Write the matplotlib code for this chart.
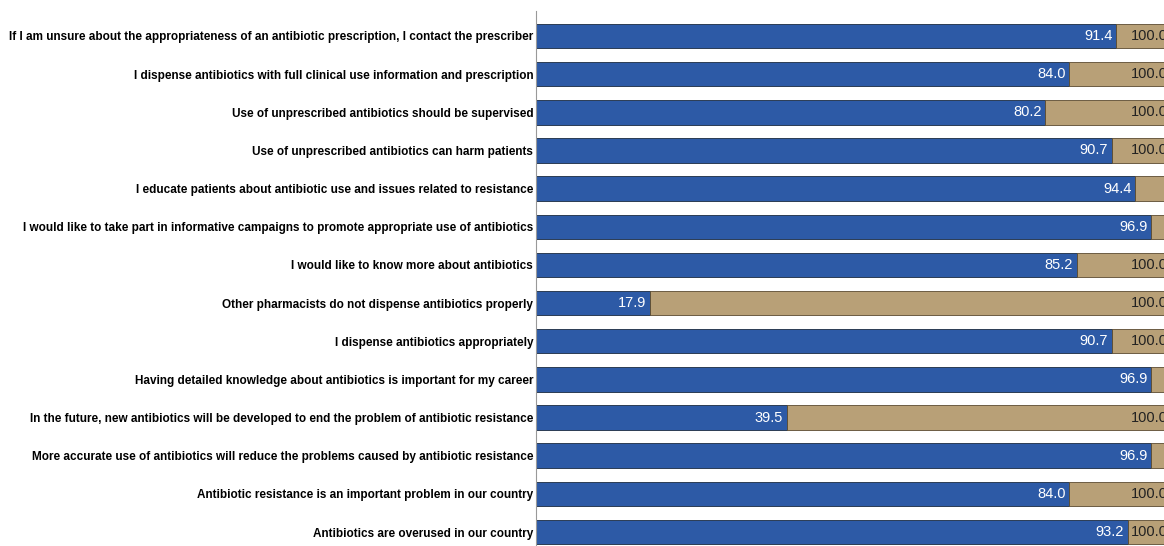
import matplotlib.pyplot as plt
import numpy as np

# statements, top to bottom
labels = [
    "If I am unsure about the appropriateness of an antibiotic prescription, I contact the prescriber",
    "I dispense antibiotics with full clinical use information and prescription",
    "Use of unprescribed antibiotics should be supervised",
    "Use of unprescribed antibiotics can harm patients",
    "I educate patients about antibiotic use and issues related to resistance",
    "I would like to take part in informative campaigns to promote appropriate use of antibiotics",
    "I would like to know more about antibiotics",
    "Other pharmacists do not dispense antibiotics properly",
    "I dispense antibiotics appropriately",
    "Having detailed knowledge about antibiotics is important for my career",
    "In the future, new antibiotics will be developed to end the problem of antibiotic resistance",
    "More accurate use of antibiotics will reduce the problems caused by antibiotic resistance",
    "Antibiotic resistance is an important problem in our country",
    "Antibiotics are overused in our country",
]
agree = [91.4, 84.0, 80.2, 90.7, 94.4, 96.9, 85.2, 17.9, 90.7, 96.9, 39.5, 96.9, 84.0, 93.2]
total = [100.0] * len(agree)

blue = "#2d5aa6"
tan = "#b8a077"

fig = plt.figure(figsize=(11.64, 5.46), dpi=100)
# axes runs a bit past the right and bottom edges, like the cropped original
ax = fig.add_axes([536 / 1164, -11 / 546, 635 / 1164, 1.0])

y = np.arange(len(labels))
rest = [t - a for t, a in zip(total, agree)]
ax.barh(y, agree, height=0.64, color=blue, edgecolor="#1a2a40", linewidth=0.6)
ax.barh(y, rest, left=agree, height=0.64, color=tan, edgecolor="#5a4a30", linewidth=0.6)

for i in range(len(labels)):
    ax.text(agree[i] - 0.6, y[i], "%.1f" % agree[i], ha="right", va="center",
            color="white", fontsize=10.5, family="Liberation Sans")
    if rest[i] >= 6:
        ax.text(total[i] - 0.5, y[i], "%.1f" % total[i], ha="right", va="center",
                color="#222222", fontsize=10.5, family="Liberation Sans")

ax.set_xlim(0, 100)
ax.set_ylim(len(labels) - 1 + 0.655, -0.655)
ax.set_yticks(y)
ax.set_yticklabels(labels, fontsize=8.5, fontweight="bold", family="Liberation Sans")
ax.tick_params(axis="y", length=0, pad=2)
ax.set_xticks([])
for s in ["top", "right", "bottom"]:
    ax.spines[s].set_visible(False)
ax.spines["left"].set_color("#999999")
ax.spines["left"].set_linewidth(0.8)

fig.savefig("out.png", dpi=100)
